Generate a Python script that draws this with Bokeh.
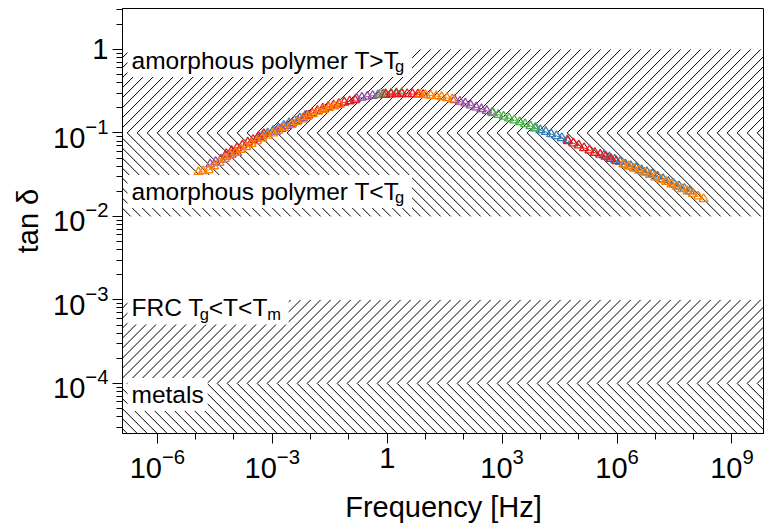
import math
from bokeh.plotting import figure
from bokeh.models import FixedTicker, LogTickFormatter, Label, Range1d
from bokeh.embed import file_html
from bokeh.resources import INLINE

# ---------------- data ----------------
# tan(delta) bands of material classes
band_bottom = [0.1, 0.01, 1e-4, 1e-6]
band_top = [1.0, 0.1, 1e-3, 1e-4]
band_hatch = ["/", "\\", "/", "\\"]

# measured master-curve segments: log10(frequency / Hz) and tan(delta)
orange1_f = [-4.93, -4.80, -4.66, -4.52, -4.38, -4.24, -4.10, -3.96, -3.82, -3.68, -3.54, -3.40, -3.26, -3.12, -2.98, -2.84, -2.70]
orange1_t = [0.034, 0.035, 0.036, 0.040, 0.044, 0.049, 0.054, 0.058, 0.063, 0.068, 0.074, 0.080, 0.086, 0.093, 0.099, 0.107, 0.115]
purple1_f = [-4.62, -4.48, -4.34, -4.20, -4.06, -3.92]
purple1_t = [0.042, 0.045, 0.048, 0.052, 0.055, 0.058]
red1_f = [-4.20, -4.06, -3.92, -3.78, -3.64, -3.50, -3.36, -3.22]
red1_t = [0.056, 0.061, 0.066, 0.071, 0.077, 0.083, 0.090, 0.097]
blue1_f = [-3.40, -3.26, -3.12, -2.98, -2.84, -2.70, -2.56, -2.42, -2.28, -2.14]
blue1_t = [0.085, 0.092, 0.099, 0.106, 0.114, 0.122, 0.131, 0.140, 0.150, 0.160]
purple2_f = [-2.90, -2.76, -2.62, -2.48, -2.34, -2.20, -2.06]
purple2_t = [0.104, 0.112, 0.121, 0.130, 0.140, 0.150, 0.162]
orange2_f = [-2.50, -2.36, -2.22, -2.08, -1.94, -1.80, -1.66, -1.52, -1.38, -1.24]
orange2_t = [0.125, 0.135, 0.146, 0.157, 0.168, 0.180, 0.190, 0.200, 0.209, 0.218]
red2_f = [-2.10, -1.96, -1.82, -1.68, -1.54, -1.40, -1.26, -1.12, -0.98, -0.84]
red2_t = [0.160, 0.172, 0.184, 0.196, 0.206, 0.215, 0.224, 0.232, 0.240, 0.248]
purple3_f = [-0.80, -0.66, -0.52, -0.38, -0.24, -0.10]
purple3_t = [0.258, 0.265, 0.272, 0.279, 0.285, 0.290]
green1_f = [-0.18, -0.04, 0.10, 0.24, 0.38]
green1_t = [0.290, 0.294, 0.298, 0.300, 0.301]
red3_f = [-0.04, 0.10, 0.24, 0.38, 0.52, 0.66, 0.80, 0.94]
red3_t = [0.287, 0.290, 0.292, 0.293, 0.293, 0.292, 0.290, 0.287]
orange3_f = [0.86, 1.00, 1.14, 1.28, 1.42, 1.56, 1.70]
orange3_t = [0.288, 0.285, 0.281, 0.276, 0.270, 0.262, 0.253]
purple4_f = [1.76, 1.90, 2.04, 2.18, 2.32, 2.46, 2.60, 2.74]
purple4_t = [0.248, 0.238, 0.226, 0.214, 0.203, 0.193, 0.184, 0.176]
green4_f = [2.76, 2.90, 3.04, 3.18, 3.32, 3.46, 3.60, 3.74, 3.88]
green4_t = [0.173, 0.165, 0.157, 0.150, 0.142, 0.135, 0.128, 0.121, 0.115]
blue4_f = [3.86, 4.00, 4.14, 4.28, 4.42, 4.56, 4.70]
blue4_t = [0.114, 0.108, 0.103, 0.097, 0.092, 0.087, 0.082]
red4_f = [4.72, 4.86, 5.00, 5.14, 5.28, 5.42, 5.56, 5.70, 5.84, 5.98]
red4_t = [0.080, 0.075, 0.071, 0.066, 0.062, 0.058, 0.055, 0.052, 0.049, 0.046]
blue5_f = [5.66, 5.80, 5.94, 6.08, 6.22, 6.36, 6.50, 6.64, 6.78, 6.92, 7.06, 7.20, 7.34, 7.48, 7.62, 7.76, 7.90]
blue5_t = [0.054, 0.051, 0.048, 0.045, 0.042, 0.040, 0.038, 0.036, 0.034, 0.032, 0.030, 0.028, 0.026, 0.0245, 0.023, 0.0215, 0.020]
orange5_f = [6.16, 6.30, 6.44, 6.58, 6.72, 6.86, 7.00, 7.14, 7.28, 7.42, 7.56, 7.70, 7.84, 7.98, 8.12, 8.26]
orange5_t = [0.042, 0.040, 0.0375, 0.0355, 0.0335, 0.0315, 0.0295, 0.0277, 0.026, 0.0243, 0.0228, 0.0213, 0.020, 0.0187, 0.0174, 0.0162]

# axis ticks
x_major = [1e-6, 1e-3, 1.0, 1e3, 1e6, 1e9]
x_minor = [10.0 ** k for k in range(-7, 11)]
y_major = [1e-4, 1e-3, 1e-2, 1e-1, 1.0]
y_minor = [m * 10.0 ** k for k in range(-5, 1) for m in range(2, 10)]

# ---------------- styles ----------------
RED, BLUE, GREEN, PURPLE, ORANGE = "#e41a1c", "#377eb8", "#4daf4a", "#984ea3", "#ff7f00"
series = [
    (BLUE, blue1_f, blue1_t), (BLUE, blue4_f, blue4_t), (BLUE, blue5_f, blue5_t),
    (PURPLE, purple1_f, purple1_t), (PURPLE, purple2_f, purple2_t), (PURPLE, purple3_f, purple3_t), (PURPLE, purple4_f, purple4_t),
    (GREEN, green1_f, green1_t), (GREEN, green4_f, green4_t),
    (RED, red1_f, red1_t), (RED, red2_f, red2_t), (RED, red3_f, red3_t), (RED, red4_f, red4_t),
    (ORANGE, orange1_f, orange1_t), (ORANGE, orange2_f, orange2_t), (ORANGE, orange3_f, orange3_t), (ORANGE, orange5_f, orange5_t),
]

FONT = "Liberation Sans"
LX0, LX1 = -6.91, 9.85
LY0, LY1 = -4.6, 0.49
X0, X1 = 10 ** LX0, 10 ** LX1
Y0, Y1 = 10 ** LY0, 10 ** LY1
W, H = 764, 530
BL, BR, BT, BB = 122, 0, 8, 97
FRAME_W, FRAME_H = W - BL - BR, H - BT - BB
HATCH_PX = 10  # horizontal spacing of hatch lines in pixels

p = figure(width=W, height=H, x_axis_type="log", y_axis_type="log",
           x_range=Range1d(X0, X1), y_range=Range1d(Y0, Y1),
           output_backend="svg", toolbar_location=None,
           min_border_left=BL, min_border_right=BR, min_border_top=BT, min_border_bottom=BB)
p.grid.visible = False
p.outline_line_color = "black"
p.outline_line_width = 1
p.background_fill_color = "white"

# 45-degree hatching of the bands, built from the band limits
ppd_x = FRAME_W / (LX1 - LX0)
ppd_y = FRAME_H / (LY1 - LY0)
step = HATCH_PX / ppd_x
hx0, hy0, hx1, hy1 = [], [], [], []
for b, t, kind in zip(band_bottom, band_top, band_hatch):
    lb, lt = math.log10(b), math.log10(t)
    span = (lt - lb) * ppd_y / ppd_x
    n0 = int(math.floor((LX0 - span) / step)) - 1
    n1 = int(math.ceil(LX1 / step)) + 1
    for k in range(n0, n1 + 1):
        s = k * step
        if kind == "/":
            hx0.append(10 ** s); hy0.append(b)
            hx1.append(10 ** (s + span)); hy1.append(t)
        else:
            hx0.append(10 ** s); hy0.append(t)
            hx1.append(10 ** (s + span)); hy1.append(b)
p.segment(x0=hx0, y0=hy0, x1=hx1, y1=hy1, line_color="black", line_width=1)

for color, lf, tv in series:
    f = [10.0 ** v for v in lf]
    p.line(f, tv, line_color=color, line_width=1)
    p.scatter(f, tv, marker="triangle", size=9, fill_color="white", fill_alpha=0,
              line_color=color, line_width=1.3)

# axes
for ax, maj, mino, lbl in ((p.xaxis, x_major, x_minor, "Frequency [Hz]"),
                           (p.yaxis, y_major, y_minor, "tan δ")):
    ax.ticker = FixedTicker(ticks=maj, minor_ticks=mino)
    ax.formatter = LogTickFormatter(min_exponent=1)
    ax.axis_label = lbl
    ax.axis_label_text_font = FONT
    ax.axis_label_text_font_size = "29px"
    ax.axis_label_text_font_style = "normal"
    ax.axis_label_text_color = "black"
    ax.major_label_text_font = FONT
    ax.major_label_text_font_size = "29px"
    ax.major_label_text_color = "black"
    ax.axis_line_color = "black"
    ax.major_tick_line_color = "black"
    ax.minor_tick_line_color = "black"
    ax.major_tick_out = 10
    ax.major_tick_in = 0
    ax.minor_tick_out = 6
    ax.minor_tick_in = 0
    ax.major_label_standoff = 4
p.xaxis.axis_label_standoff = 10
p.yaxis.axis_label_standoff = 6

# band labels with subscripts
AW = {'a': .556, 'm': .833, 'o': .556, 'r': .333, 'p': .556, 'h': .556, 'u': .556,
      's': .5, ' ': .278, 'l': .222, 'y': .5, 'e': .556, 'T': .611, '<': .584,
      '>': .584, 'F': .611, 'R': .722, 'C': .722, 't': .278, 'g': .556}


def tw(s, fs):
    return sum(AW[c] for c in s) * fs


FS, SFS = 24.5, 16.5
label_specs = [
    ([("amorphous polymer T>T", False), ("g", True)], band_top[0], -11),
    ([("amorphous polymer T<T", False), ("g", True)], band_bottom[1], 25),
    ([("FRC T", False), ("g", True), ("<T<T", False), ("m", True)], band_top[2], -8),
    ([("metals", False)], band_top[3], -11),
]
for parts, yv, yoff in label_specs:
    total = sum(tw(t, SFS if s else FS) for t, s in parts)
    xoff = 5
    for i, (t, s) in enumerate(parts):
        fs = SFS if s else FS
        w = tw(t, fs)
        kw = {}
        if i == 0:
            kw = dict(background_fill_color="white",
                      padding=dict(left=4, right=int(round(4 + total - w)), top=3, bottom=3))
        p.add_layout(Label(x=X0, y=yv, x_offset=xoff, y_offset=yoff - (6 if s else 0),
                           text=t, text_font=FONT, text_font_size=f"{fs}px",
                           text_color="black", text_baseline="alphabetic",
                           text_align="left", **kw))
        xoff += w

open("out.html", "w").write(file_html(p, INLINE))
